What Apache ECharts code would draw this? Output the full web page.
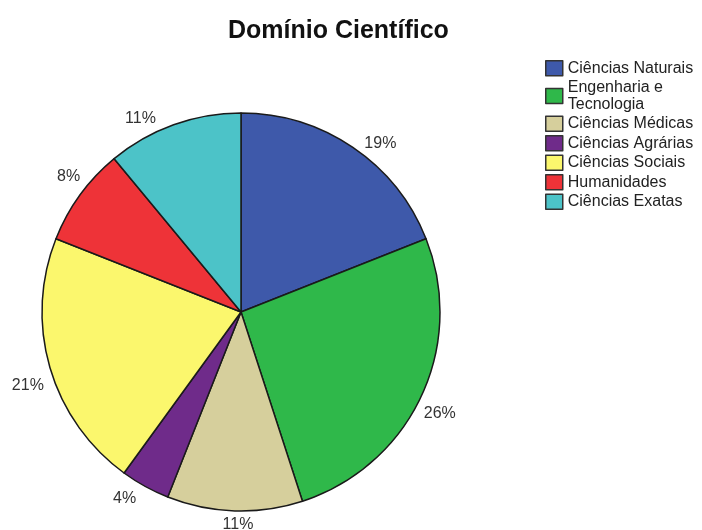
<!DOCTYPE html>
<html>
<head>
<meta charset="utf-8">
<script src="https://cdn.jsdelivr.net/npm/echarts@6/dist/echarts.min.js"></script>
<style>html,body{margin:0;padding:0;background:#fff;}#c{width:702px;height:530px;}</style>
</head>
<body>
<div id="c"></div>
<script>
var categories = ['Ciências Naturais', 'Engenharia e\nTecnologia', 'Ciências Médicas', 'Ciências Agrárias', 'Ciências Sociais', 'Humanidades', 'Ciências Exatas'];
var values = [19, 26, 11, 4, 21, 8, 11];

var palette = ['#3e59aa', '#2fb84a', '#d6cf9c', '#6f2b8a', '#fbf76d', '#ee3338', '#4cc3c8'];
// small label nudges to mimic the original label placement
var labelNudge = [[14, 16], [-3, 7], [4, -10], [-9, -9], [1, 11], [8, -4], [-25, 16]];

var pieData = categories.map(function (n, i) { return { name: n, value: values[i] }; });
var labelData = categories.map(function (n, i) {
  return { name: n, value: values[i], label: { offset: labelNudge[i] } };
});

var chart = echarts.init(document.getElementById('c'), null, { renderer: 'canvas' });
chart.setOption({
  animation: false,
  color: palette,
  title: {
    text: 'Domínio Científico',
    left: 228,
    top: 19,
    padding: 0,
    textStyle: { fontFamily: 'Liberation Sans, Arial, sans-serif', fontSize: 25, fontWeight: 'bold', color: '#111' }
  },
  legend: {
    orient: 'vertical',
    left: 545,
    top: 60,
    padding: 0,
    itemWidth: 17,
    itemHeight: 15,
    itemGap: 3,
    icon: 'rect',
    data: categories,
    itemStyle: { borderColor: '#333', borderWidth: 1.5 },
    textStyle: { fontFamily: 'Liberation Sans, Arial, sans-serif', fontSize: 16, lineHeight: 16.5, color: '#222' }
  },
  series: [
    {
      type: 'pie',
      center: [241, 312],
      radius: [0, 199],
      startAngle: 90,
      clockwise: true,
      data: pieData,
      label: { show: false },
      labelLine: { show: false },
      itemStyle: { borderColor: '#1a1a1a', borderWidth: 1.5 },
      emphasis: { disabled: true }
    },
    {
      type: 'pie',
      center: [241, 312],
      radius: [199, 241],
      startAngle: 90,
      clockwise: true,
      silent: true,
      legendHoverLink: false,
      data: labelData,
      itemStyle: { color: 'rgba(0,0,0,0)', borderWidth: 0 },
      label: {
        show: true,
        position: 'inside',
        formatter: '{c}%',
        fontFamily: 'Liberation Sans, Arial, sans-serif',
        fontSize: 16,
        color: '#333'
      },
      labelLine: { show: false },
      emphasis: { disabled: true }
    }
  ]
});
</script>
</body>
</html>
